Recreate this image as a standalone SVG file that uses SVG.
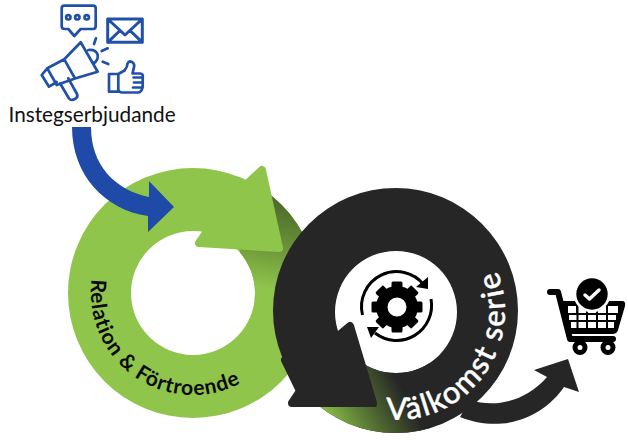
<svg xmlns="http://www.w3.org/2000/svg" width="628" height="442" viewBox="0 0 628 442">
<style>
.ln{fill:none;stroke:#2050a8;stroke-width:2.7;stroke-linejoin:round;stroke-linecap:round}
.t{font-family:Lato,"Open Sans",sans-serif}
.tooth{fill:#000}
</style>
<defs>
<linearGradient id="shadeG" gradientUnits="userSpaceOnUse" x1="290" y1="195" x2="270" y2="290">
<stop offset="0" stop-color="#46642a"/><stop offset=".5" stop-color="#678f37"/><stop offset="1" stop-color="#90c54c"/>
</linearGradient>
<linearGradient id="shadeD" gradientUnits="userSpaceOnUse" x1="325" y1="425" x2="400" y2="385">
<stop offset="0" stop-color="#90c54c"/><stop offset=".45" stop-color="#5a7a34"/><stop offset="1" stop-color="#262626"/>
</linearGradient>
<clipPath id="ringG"><path clip-rule="evenodd" d="M68 293a125 125 0 1 0 250 0a125 125 0 1 0-250 0ZM131 293a62 62 0 1 0 124 0a62 62 0 1 0-124 0Z"/></clipPath>
<clipPath id="ringD"><path clip-rule="evenodd" d="M273 310.500a122.500 122.500 0 1 0 245 0a122.500 122.500 0 1 0-245 0ZM335 312a61 61 0 1 0 122 0a61 61 0 1 0-122 0Z"/></clipPath>
<path id="pG" d="M91.800 279A102 102 0 0 0 262 368"/>
<path id="pD" d="M386.500 419.600A109 109 0 0 0 490.400 256.500"/>
</defs>
<g id="relation">
<path fill="#90c54c" fill-rule="evenodd" d="M68 293a125 125 0 1 0 250 0a125 125 0 1 0-250 0ZM131 293a62 62 0 1 0 124 0a62 62 0 1 0-124 0Z"/>
<rect x="240" y="190" width="90" height="110" fill="url(#shadeG)" clip-path="url(#ringG)"/>
<path fill="#90c54c" stroke="#90c54c" stroke-width="8" stroke-linejoin="round" d="M248 183L262 170L279 248L199 243L206 233Z"/>
<text class="t" font-size="21" font-weight="700" letter-spacing=".85" fill="#0a0a0a"><textPath href="#pG">Relation &amp; Förtroende</textPath></text>
</g>
<g id="connectors">
<path id="entry-arrow" fill="#1f4aa8" d="M72 127C72 175 105 210 148 216L148 232L174 207L149 181L149 197C115 190 91 165 91 127Z"/>
<path id="exit-arrow" fill="#262626" d="M470 400C495 408 525 402 547 377L534 370L568 359L579 392L564 387C545 415 505 435 460 417Z"/>
</g>
<g id="valkomst">
<path fill="#262626" fill-rule="evenodd" d="M273 310.500a122.500 122.500 0 1 0 245 0a122.500 122.500 0 1 0-245 0ZM335 312a61 61 0 1 0 122 0a61 61 0 1 0-122 0Z"/>
<path fill="url(#shadeD)" clip-path="url(#ringD)" d="M338 332L377 407L288 407L288 442L430 442L430 330Z"/>
<path fill="#262626" stroke="#262626" stroke-width="8" stroke-linejoin="round" d="M350 326L373 403L292 403L300 391L285 360L338 336Z"/>
<text class="t" font-size="31" font-weight="500" letter-spacing="1.800" fill="#fff" stroke="#fff" stroke-width=".4"><textPath href="#pD">Välkomst serie</textPath></text>
</g>
<g id="gear-icon">
<path fill="none" stroke="#000" stroke-width="3" d="M362.500 315A35 35 0 0 1 424 285"/>
<path d="M428 277L428 289L416 287Z"/>
<path fill="none" stroke="#000" stroke-width="3" d="M431 299A35 35 0 0 1 375 333"/>
<path d="M367 327L379 327L371 338Z"/>
<path fill-rule="evenodd" d="M376 307a21 21 0 1 0 42 0a21 21 0 1 0-42 0ZM387.500 307a9.500 9.500 0 1 1 19 0a9.500 9.500 0 1 1-19 0Z"/>
<g transform="translate(397 307)">
<rect class="tooth" x="-5.500" y="-25.500" width="11" height="10" rx="1.500"/>
<rect class="tooth" x="-5.500" y="-25.500" width="11" height="10" rx="1.500" transform="rotate(45)"/>
<rect class="tooth" x="-5.500" y="-25.500" width="11" height="10" rx="1.500" transform="rotate(90)"/>
<rect class="tooth" x="-5.500" y="-25.500" width="11" height="10" rx="1.500" transform="rotate(135)"/>
<rect class="tooth" x="-5.500" y="-25.500" width="11" height="10" rx="1.500" transform="rotate(180)"/>
<rect class="tooth" x="-5.500" y="-25.500" width="11" height="10" rx="1.500" transform="rotate(225)"/>
<rect class="tooth" x="-5.500" y="-25.500" width="11" height="10" rx="1.500" transform="rotate(270)"/>
<rect class="tooth" x="-5.500" y="-25.500" width="11" height="10" rx="1.500" transform="rotate(315)"/>
</g>
</g>
<g id="cart-icon">
<path fill="none" stroke="#000" stroke-width="6" stroke-linecap="round" stroke-linejoin="round" d="M550 292L558 292L570 339L613 339"/>
<path fill="#000" d="M560 301L622 301Q626 301 625 306L618 330Q617 334 612 334L568 334Z"/>
<g fill="#fff">
<rect x="568" y="306" width="8" height="7"/><rect x="578.500" y="306" width="7.500" height="7"/><rect x="588" y="306" width="8" height="7"/><rect x="598" y="306" width="8" height="7"/><rect x="608" y="306" width="10" height="7"/>
<rect x="569" y="315" width="7.500" height="5"/><rect x="578.500" y="315" width="7.500" height="5"/><rect x="588" y="315" width="8" height="5"/><rect x="598" y="315" width="8" height="5"/><rect x="608" y="315" width="8" height="5"/>
<rect x="571" y="322" width="5.500" height="6"/><rect x="578.500" y="322" width="7.500" height="6"/><rect x="588" y="322" width="8" height="6"/><rect x="598" y="322" width="8" height="6"/><rect x="608" y="322" width="6" height="6"/>
</g>
<circle cx="592" cy="294" r="18.500" fill="#fff"/>
<circle cx="592" cy="294" r="15.700"/>
<path fill="none" stroke="#fff" stroke-width="3.500" stroke-linecap="round" stroke-linejoin="round" d="M585 295L589.500 299L599 290"/>
<circle cx="580" cy="347.500" r="5" fill="#fff" stroke="#000" stroke-width="5"/>
<circle cx="608" cy="347.500" r="5" fill="#fff" stroke="#000" stroke-width="5"/>
</g>
<g id="offer">
<path class="ln" d="M64.500 5.700H93Q95.700 5.700 95.700 8.500V26Q95.700 29 93 29H80.700L74.300 36L68.300 29H64.500Q61.700 29 61.700 26V8.500Q61.700 5.700 64.500 5.700Z"/>
<circle class="ln" cx="68.300" cy="17.300" r="2.200"/><circle class="ln" cx="77.300" cy="17.300" r="2.200"/><circle class="ln" cx="86.700" cy="17.300" r="2.200"/>
<path class="ln" d="M64.300 59.300L80.700 42.300L97.700 71.700L75 78.500ZM47.300 68.300L64.300 59.300L75 78.500L56.700 85ZM47.300 68.300L41.700 75L49 86.700L56.700 82M60 83.300L69 98.500Q71 101 75 99Q78.500 97 77 94L68.300 78.300M88.300 50Q95 49 97.500 54Q99 60 93.300 63.500"/>
<path class="ln" d="M96 38.300L94 44M107.700 48.300L101.700 51M102.700 61.700L108.300 64"/>
<path class="ln" style="stroke-width:3" d="M107.700 19H142.300V42.300H107.700ZM107.700 19L125 35L142.300 19M107.700 42.300L120 30.500M142.300 42.300L130 30.500"/>
<path class="ln" d="M109 74H118.300V91.700H109ZM118.300 74L124.500 70.500Q127.500 67 127.500 63.500Q129 60.500 132 62Q135 64 134 67L132.500 73.500H140.500Q143.500 74 142.700 77.500L142.700 87Q141.500 92.500 138 92.500H122Q119.500 92.500 118.300 90M133.500 77.500H142.700M134 82.500H142.700M133 87.500H141"/>
<text class="t" x="8.500" y="122" font-size="20.750" fill="#111">Instegserbjudande</text>
</g>
</svg>
